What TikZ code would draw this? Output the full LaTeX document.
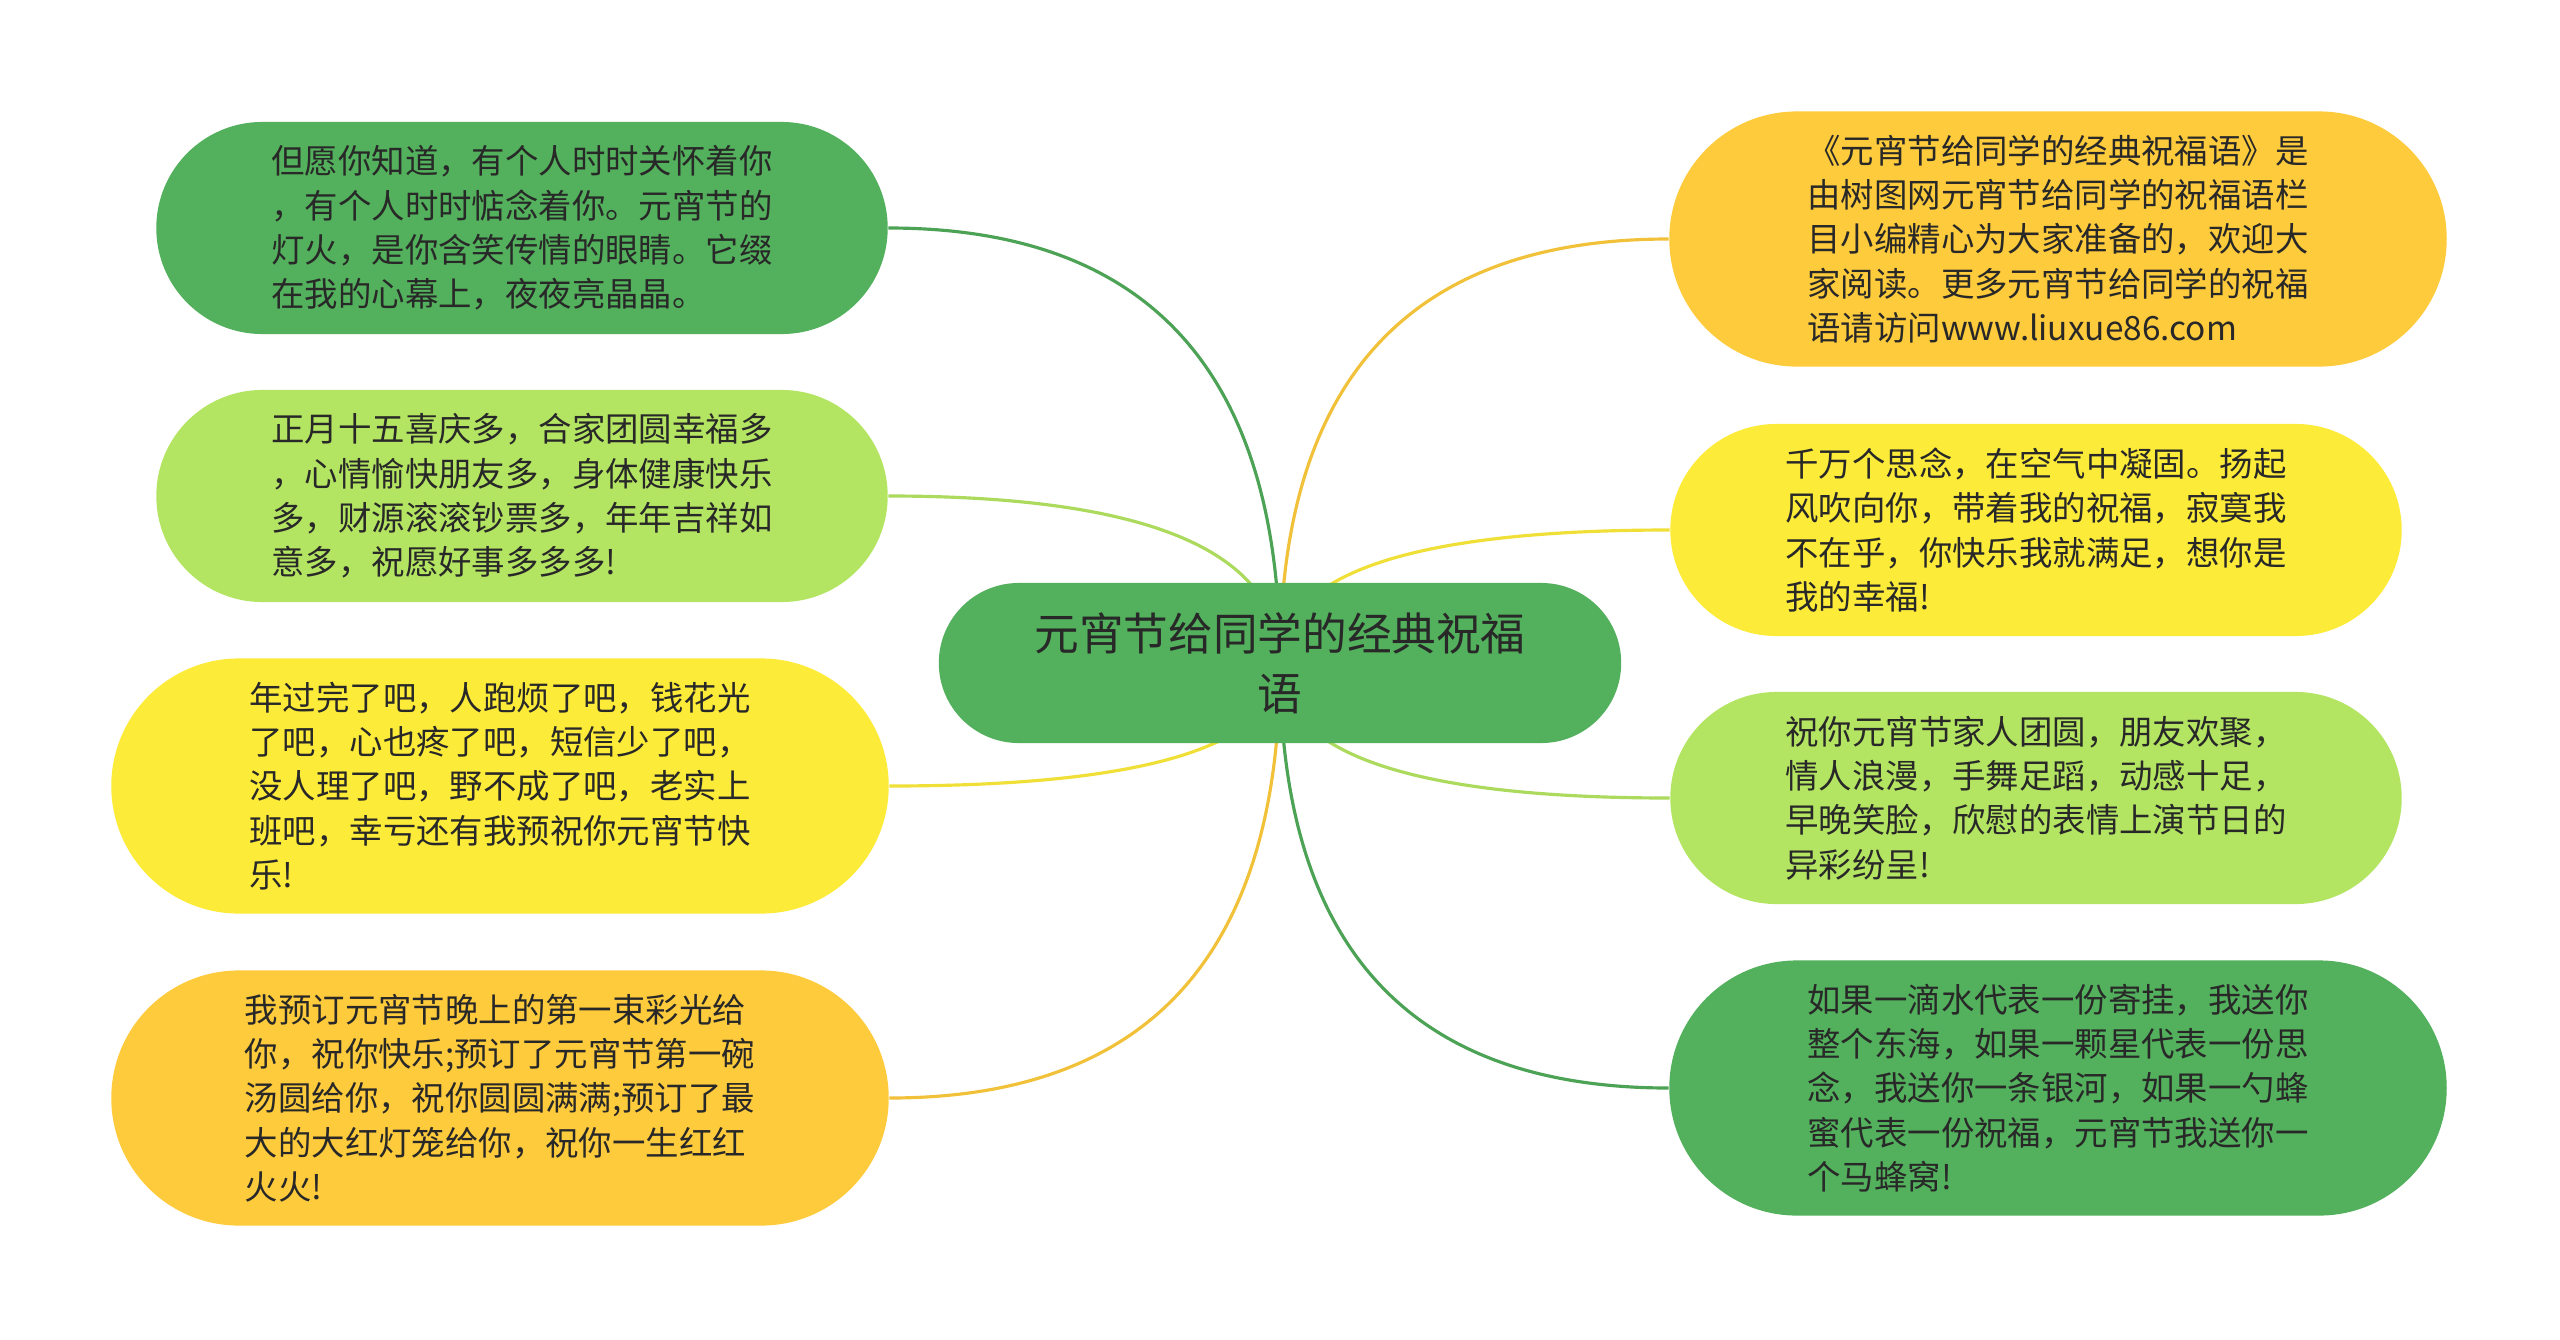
\documentclass[tikz,border=0pt]{standalone}
\usepackage{fontspec}
\setmainfont{Noto Sans CJK SC}
\usepackage{xcolor}
\usepackage{tikz}
\usetikzlibrary{shapes.misc,positioning,calc}
\pgfdeclarelayer{background}
\pgfsetlayers{background,main}
\definecolor{dkgreen}{RGB}{83,176,92}
\definecolor{ltgreen}{RGB}{180,229,98}
\definecolor{lemon}{RGB}{253,235,58}
\definecolor{amber}{RGB}{254,203,60}
\definecolor{inktext}{RGB}{40,40,40}
\tikzstyle{bubble}=[rounded rectangle, text=inktext, align=left, inner sep=0pt,
font=\fontsize{9.5pt}{12.6pt}\selectfont, minimum width=7.31cm, minimum height=2.12cm]
\tikzstyle{bigbubble}=[bubble, minimum width=7.77cm, minimum height=2.55cm]
\tikzstyle{hub}=[bubble, align=center, fill=dkgreen,
font=\fontsize{12.7pt}{17pt}\selectfont, minimum width=6.82cm, minimum height=1.6cm]
\tikzstyle{link}=[draw, line width=0.9pt]
\newcommand{\bubble}[3]{node (p#1)[bubble, fill=#2]{#3}}
\newcommand{\bigbubble}[3]{node (p#1)[bigbubble, fill=#2]{#3}}
\newcommand{\bough}[2]{\path [link, draw=#2] (p0.center) .. controls
  ($(p0.center)!0.667!(p0.center |- #1)$) and ($(#1)!0.667!(p0.center |- #1)$) .. (#1);}

\begin{document}
\begin{tikzpicture}[x=0.01cm, y=-0.01cm]
	\useasboundingbox (0,0) rectangle (2560,1339);

	% centre topic
	\node (p0) [hub] at (1280,663) {元宵节给同学的经典祝福\\语};

	% left side
	\path (522,228) \bubble{1}{dkgreen}{但愿你知道，有个人时时关怀着你\\，有个人时时惦念着你。元宵节的\\灯火，是你含笑传情的眼睛。它缀\\在我的心幕上，夜夜亮晶晶。};
	\path (522,496) \bubble{2}{ltgreen}{正月十五喜庆多，合家团圆幸福多\\，心情愉快朋友多，身体健康快乐\\多，财源滚滚钞票多，年年吉祥如\\意多，祝愿好事多多多!};
	\path (500,786) \bigbubble{3}{lemon}{年过完了吧，人跑烦了吧，钱花光\\了吧，心也疼了吧，短信少了吧，\\没人理了吧，野不成了吧，老实上\\班吧，幸亏还有我预祝你元宵节快\\乐!};
	\path (500,1098) \bigbubble{4}{amber}{我预订元宵节晚上的第一束彩光给\\你，祝你快乐;预订了元宵节第一碗\\汤圆给你，祝你圆圆满满;预订了最\\大的大红灯笼给你，祝你一生红红\\火火!};

	% right side
	\path (2058,239) \bigbubble{5}{amber}{《元宵节给同学的经典祝福语》是\\由树图网元宵节给同学的祝福语栏\\目小编精心为大家准备的，欢迎大\\家阅读。更多元宵节给同学的祝福\\语请访问www.liuxue86.com};
	\path (2036,530) \bubble{6}{lemon}{千万个思念，在空气中凝固。扬起\\风吹向你，带着我的祝福，寂寞我\\不在乎，你快乐我就满足，想你是\\我的幸福!};
	\path (2036,798) \bubble{7}{ltgreen}{祝你元宵节家人团圆，朋友欢聚，\\情人浪漫，手舞足蹈，动感十足，\\早晚笑脸，欣慰的表情上演节日的\\异彩纷呈!};
	\path (2058,1088) \bigbubble{8}{dkgreen}{如果一滴水代表一份寄挂，我送你\\整个东海，如果一颗星代表一份思\\念，我送你一条银河，如果一勺蜂\\蜜代表一份祝福，元宵节我送你一\\个马蜂窝!};

	% branches behind the bubbles
	\begin{pgfonlayer}{background}
	\fill [white] (0,0) rectangle (2560,1339);
	\bough{p1.east}{dkgreen!92!black}
	\bough{p2.east}{ltgreen!95!black}
	\bough{p3.east}{lemon!95!black}
	\bough{p4.east}{amber!95!black}
	\bough{p5.west}{amber!95!black}
	\bough{p6.west}{lemon!95!black}
	\bough{p7.west}{ltgreen!95!black}
	\bough{p8.west}{dkgreen!92!black}
	\end{pgfonlayer}
\end{tikzpicture}
\end{document}
